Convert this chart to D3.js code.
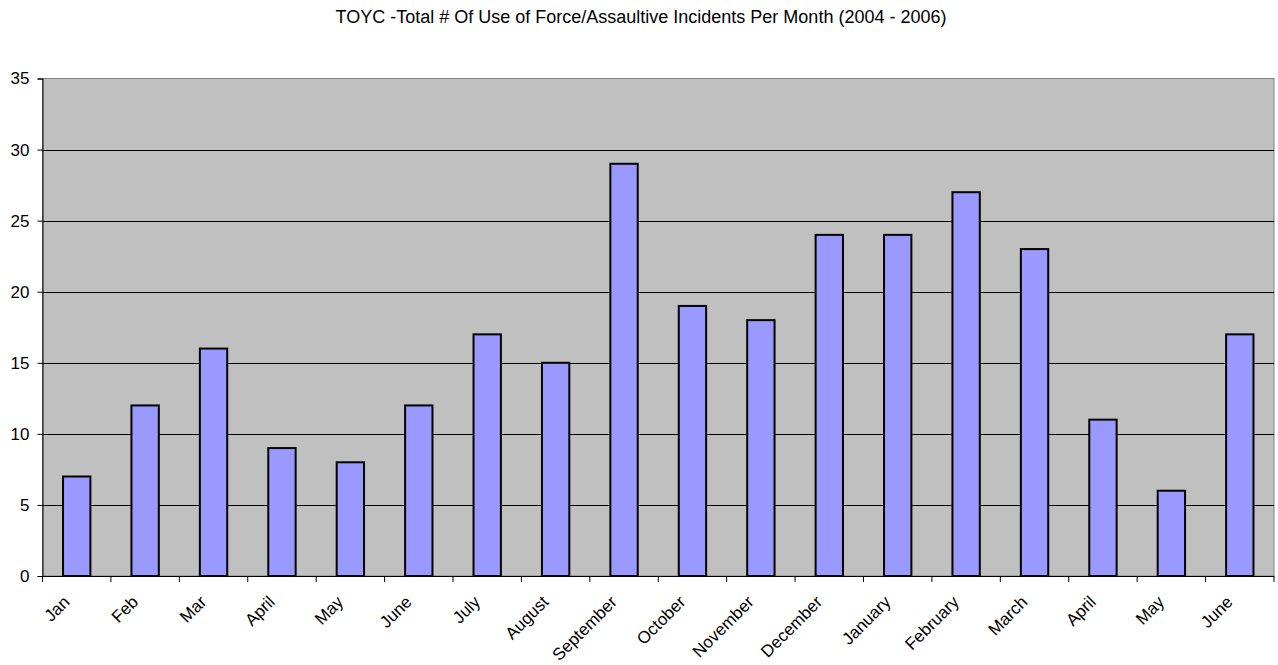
<!DOCTYPE html>
<html>
<head>
<meta charset="utf-8">
<script src="https://cdn.jsdelivr.net/npm/d3@7"></script>
<style>
  html, body { margin: 0; padding: 0; background: #fff; }
  svg { display: block; font-family: "Liberation Sans", Arial, sans-serif; }
</style>
</head>
<body>
<svg id="chart" width="1278" height="665"></svg>
<script>
const titleText = "TOYC -Total # Of Use of Force/Assaultive Incidents Per Month (2004 - 2006)";
const months = ["Jan", "Feb", "Mar", "April", "May", "June", "July", "August", "September",
  "October", "November", "December", "January", "February", "March", "April", "May", "June"];
const incidents = [7, 12, 16, 9, 8, 12, 17, 15, 29, 19, 18, 24, 24, 27, 23, 11, 6, 17];
const yTicks = [0, 5, 10, 15, 20, 25, 30, 35];

const svg = d3.select("#chart");
const plot = { left: 42.5, right: 1274, top: 78.5, bottom: 576 };

// index-based band scale so repeated month names stay distinct
const x = d3.scaleBand()
  .domain(months.map((d, i) => i))
  .range([plot.left, plot.right])
  .paddingInner(0.6)
  .paddingOuter(0.3);
const xTickScale = d3.scaleBand()
  .domain(months.map((d, i) => i))
  .range([plot.left, plot.right]);
const y = d3.scaleLinear().domain([0, 35]).range([plot.bottom, plot.top]);

svg.append("text")
  .attr("x", 641).attr("y", 23)
  .attr("text-anchor", "middle")
  .attr("font-size", 18)
  .text(titleText);

// plot area background
svg.append("rect")
  .attr("x", plot.left).attr("y", plot.top)
  .attr("width", plot.right - plot.left)
  .attr("height", plot.bottom - plot.top)
  .attr("fill", "#C0C0C0")
  .attr("stroke", "#808080")
  .attr("stroke-width", 1);

// horizontal gridlines
svg.append("g")
  .selectAll("line")
  .data(yTicks.filter(t => t > 0 && t < 35))
  .join("line")
  .attr("x1", plot.left).attr("x2", plot.right)
  .attr("y1", d => Math.round(y(d)) + 0.5).attr("y2", d => Math.round(y(d)) + 0.5)
  .attr("stroke", "#000").attr("stroke-width", 1);

// bars
svg.append("g")
  .selectAll("rect")
  .data(incidents)
  .join("rect")
  .attr("x", (d, i) => x(i))
  .attr("y", d => y(d))
  .attr("width", x.bandwidth())
  .attr("height", d => y(0) - y(d))
  .attr("fill", "#9999FF")
  .attr("stroke", "#000")
  .attr("stroke-width", 2);

// y axis
const yAxis = d3.axisLeft(y).tickValues(yTicks).tickSize(5).tickPadding(8);
const gy = svg.append("g")
  .attr("transform", `translate(${plot.left},0)`)
  .call(yAxis);
gy.select(".domain").attr("stroke", "#000");
gy.selectAll("text").attr("font-size", 17).attr("fill", "#000")
  .attr("font-family", "Liberation Sans, Arial, sans-serif");

// x axis: ticks at band boundaries
const gx = svg.append("g").attr("transform", `translate(0,${plot.bottom})`);
gx.append("line")
  .attr("x1", plot.left).attr("x2", plot.right)
  .attr("y1", 0.5).attr("y2", 0.5)
  .attr("stroke", "#000");
const bounds = months.map((d, i) => xTickScale(i)).concat([plot.right]);
gx.selectAll("line.tick")
  .data(bounds)
  .join("line")
  .attr("class", "tick")
  .attr("x1", d => d).attr("x2", d => d)
  .attr("y1", 0).attr("y2", 6)
  .attr("stroke", "#000");

gx.selectAll("text")
  .data(months)
  .join("text")
  .attr("transform", (d, i) => `translate(${xTickScale(i) + xTickScale.bandwidth() / 2 - 6},${27}) rotate(-45)`)
  .attr("text-anchor", "end")
  .attr("font-size", 17)
  .text(d => d);
</script>
</body>
</html>
